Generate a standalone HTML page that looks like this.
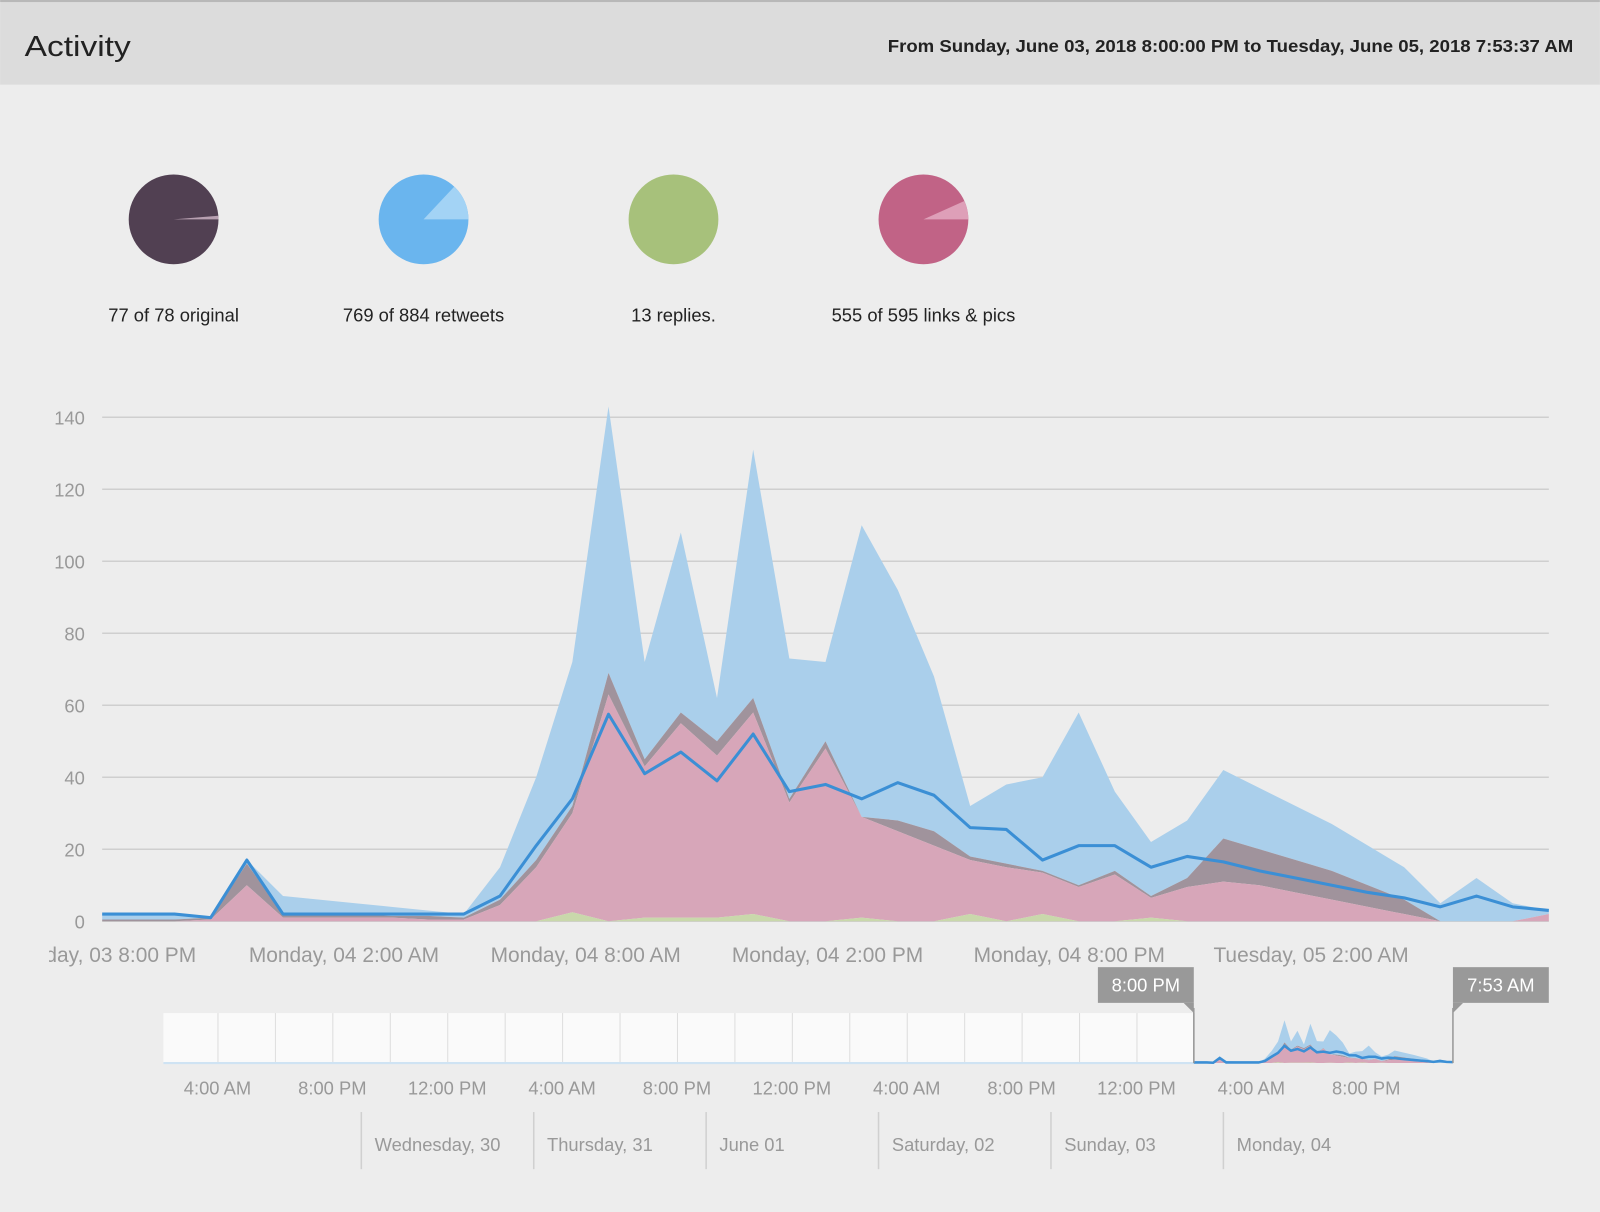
<!DOCTYPE html>
<html><head><meta charset="utf-8">
<style>
html,body{margin:0;padding:0;background:#ededed;width:1600px;height:1212px;overflow:hidden;font-family:"Liberation Sans",sans-serif;}
svg{display:block}
</style></head>
<body>
<svg id="root" width="1600" height="1212" viewBox="0 0 1568 1188">
  <rect x="0" y="0" width="1568" height="1188" fill="#ededed"/>
  <g>
    <rect x="0" y="0" width="1568" height="83" fill="#dcdcdc"/>
    <rect x="0" y="0" width="1568" height="2" fill="#b8b8b8"/>
    <text x="24" y="55" font-size="28" fill="#222" font-family="Liberation Sans, sans-serif" textLength="104" lengthAdjust="spacingAndGlyphs">Activity</text>
    <text x="1542" y="51" font-size="17" font-weight="bold" fill="#222" text-anchor="end" textLength="672" lengthAdjust="spacingAndGlyphs">From Sunday, June 03, 2018 8:00:00 PM to Tuesday, June 05, 2018 7:53:37 AM</text>
  </g>
  <g id="pies"></g>
  <g id="chart"></g>
  <g id="nav"></g>
</svg>
<script>
// ---------- data ----------
const pieLabels = ["77 of 78 original","769 of 884 retweets","13 replies.","555 of 595 links & pics"];
const pieParts = [77, 769, 13, 555];
const pieTotals = [78, 884, 13, 595];
const pieColors = ["#514052","#6ab5ee","#a7c17b","#c16386"];
const pieLight = ["#b79fb0","#a3d3f5","#c9dba9","#de9fb8"];

const yTicks = [0,20,40,60,80,100,120,140];
const xTickLabels = ["Sunday, 03 8:00 PM","Monday, 04 2:00 AM","Monday, 04 8:00 AM","Monday, 04 2:00 PM","Monday, 04 8:00 PM","Tuesday, 05 2:00 AM"];
const xTickHours = [0,6,12,18,24,30];

// stacked tops per time bin (41 bins)
const repliesTop = [0,0,0,0,0,0,0,0,0,0,0,0,0,2.5,0,1,1,1,2,0,0,1,0,0,2,0,2,0,0,1,0,0,0,0,0,0,0,0,0,0,0];
const linksTop = [0,0,0,0.5,10,1,1,1,1,0.5,0.5,4.5,15,30,63,43,55,46,58,33,48,29,25,21,17,15,13.5,9.5,13,6.5,9.5,11,10,8,6,4,2,0,0,0,2];
const originalTop = [0.5,0.5,0.5,1,16,2,2,2,1.5,1.5,1,6,17,32,69,45,58,50,62,34,50,29,28,25,18,16,14,10,14,7,12,23,20,17,14,10,6,0,0,0,2];
const retweetsTop = [2,2,2,1,17,7,6,5,4,3,2,15,40,72,143,72,108,62,131,73,72,110,92,68,32,38,40,58,36,22,28,42,37,32,27,21,15,5,12,5,3];
const tweetsLine = [2,2,2,1,17,2,2,2,2,2,2,7,21,34,57.5,41,47,39,52,36,38,34,38.5,35,26,25.5,17,21,21,15,18,16.5,14,12,10,8,6.5,4,7,4,3];

const navTimeLabels = ["4:00 AM","8:00 PM","12:00 PM","4:00 AM","8:00 PM","12:00 PM","4:00 AM","8:00 PM","12:00 PM","4:00 AM","8:00 PM"];
const navDayLabels = ["Wednesday, 30","Thursday, 31","June 01","Saturday, 02","Sunday, 03","Monday, 04"];

// ---------- helpers ----------
const NS = "http://www.w3.org/2000/svg";
function mk(tag, attrs, parent){const e=document.createElementNS(NS,tag);for(const k in attrs)e.setAttribute(k,attrs[k]);parent.appendChild(e);return e;}

// ---------- pies ----------
const pies = document.getElementById('pies');
pieLabels.forEach((lab,i)=>{
  const cx = 170 + i*245, cy = 215, r = 44;
  const g = mk('g',{},pies);
  
  
  const c = mk('circle',{cx:cx,cy:cy,r:r,fill:pieColors[i]},g);
  
  
  const frac = 1 - pieParts[i]/pieTotals[i];
  if (frac > 0) {
    const a = frac*2*Math.PI;
    const x2 = cx + r*Math.cos(-a), y2 = cy + r*Math.sin(-a);
    const p = mk('path',{d:`M${cx},${cy} L${cx+r},${cy} A${r},${r} 0 ${a>Math.PI?1:0} 0 ${x2},${y2} Z`,fill:pieLight[i]},g);
    
    
  }
  const t = mk('text',{x:cx,y:315,'font-size':18,fill:'#222','text-anchor':'middle'},g);
  t.textContent = lab;
  
  
});

// ---------- main chart ----------
const chart = document.getElementById('chart');
const X0 = 100, X1 = 1518, Y0 = 903, Y1 = 409, YMAX = 140;
const N = retweetsTop.length;
const xs = i => X0 + i*(X1-X0)/(N-1);
const xh = h => X0 + h*(X1-X0)/35.9;
const ys = v => Y0 - v*(Y0-Y1)/YMAX;

yTicks.forEach(v=>{
  const l = mk('line',{x1:X0,x2:X1,y1:ys(v),y2:ys(v),stroke:'#cfcfcf','stroke-width':1.5},chart);
  
  
  const t = mk('text',{x:83,y:ys(v)+7,'font-size':18,fill:'#999','text-anchor':'end'},chart);
  t.textContent = v;
  
  
});

const clip = mk('clipPath',{id:'plotclip'},chart);
mk('rect',{x:48,y:300,width:X1-48,height:700},clip);
function area(top, bottom, fill, name, sx, sy){
  let d = 'M'+sx(0)+','+sy(top[0]);
  for(let i=1;i<N;i++) d += ' L'+sx(i)+','+sy(top[i]);
  for(let i=N-1;i>=0;i--) d += ' L'+sx(i)+','+sy(bottom?bottom[i]:0);
  d += 'Z';
  return d;
}
function line(vals, sx, sy){
  let d='M'+sx(0)+','+sy(vals[0]);
  for(let i=1;i<N;i++) d+=' L'+sx(i)+','+sy(vals[i]);
  return d;
}
const layers = [
  [retweetsTop, originalTop, '#aacfeb','retweets-area'],
  [originalTop, linksTop, '#a0939c','original-area'],
  [linksTop, repliesTop, '#d7a6b9','links-area'],
  [repliesTop, null, '#c9d8ab','replies-area']
];
layers.forEach(L=>{
  const p = mk('path',{d:area(L[0],L[1],L[2],L[3],xs,ys),fill:L[2]},chart);
  
  
});
const lp = mk('path',{d:line(tweetsLine,xs,ys),fill:'none',stroke:'#3b8fd5','stroke-width':3,'stroke-linejoin':'round'},chart);



const xl = mk('g',{'clip-path':'url(#plotclip)'},chart);
xTickLabels.forEach((lab,i)=>{
  const t = mk('text',{x:xh(xTickHours[i]),y:943,'font-size':20.5,fill:'#999','text-anchor':'middle'},xl);
  t.textContent = lab;
  
  
});

// ---------- navigator ----------
const nav = document.getElementById('nav');
const NX0 = 160, NSEL = 1170, NX1 = 1424, NYB = 1042, NYT = 993;
const nb = mk('rect',{x:NX0,y:NYT,width:NSEL-NX0,height:NYB-NYT,fill:'#fafafa'},nav);


for(let k=0;k<18;k++){
  const x = 213.5 + k*56.3;
  if (x > NX1-5) break;
  const l = mk('line',{x1:x,x2:x,y1:NYT,y2:NYB,stroke:'#dddddd','stroke-width':1},nav);
  
  
}
mk('line',{x1:NX0,x2:NSEL,y1:NYB,y2:NYB,stroke:'#cfe3f3','stroke-width':2},nav);
const nxs = i => NSEL + i*(NX1-NSEL)/(N-1);
const nys = v => NYB - v*42/143;
layers.forEach(L=>{
  const p = mk('path',{d:area(L[0],L[1],L[2],L[3],nxs,nys),fill:L[2]},nav);
  
  
});
const nl = mk('path',{d:line(tweetsLine,nxs,nys),fill:'none',stroke:'#3b8fd5','stroke-width':2.5},nav);


[NSEL,NX1].forEach((x,i)=>{
  const l = mk('line',{x1:x,x2:x,y1:NYT-5,y2:NYB,stroke:'#999','stroke-width':1.5},nav);
  
  
});
// handle labels
const hl = mk('g',{},nav);


mk('rect',{x:1076,y:948,width:94,height:35,fill:'#999'},hl);
mk('path',{d:'M1160,983 L1170,983 L1170,993 Z',fill:'#999'},hl);
const h1 = mk('text',{x:1123,y:972,'font-size':18,fill:'#fff','text-anchor':'middle'},hl); h1.textContent='8:00 PM';
const hr = mk('g',{},nav);


mk('rect',{x:1424,y:948,width:94,height:35,fill:'#999'},hr);
mk('path',{d:'M1424,983 L1434,983 L1424,993 Z',fill:'#999'},hr);
const h2 = mk('text',{x:1471,y:972,'font-size':18,fill:'#fff','text-anchor':'middle'},hr); h2.textContent='7:53 AM';

navTimeLabels.forEach((lab,i)=>{
  const t = mk('text',{x:213+i*112.6,y:1073,'font-size':18,fill:'#999','text-anchor':'middle'},nav);
  t.textContent = lab;
  
  
});
navDayLabels.forEach((lab,i)=>{
  const x = 354 + i*169;
  const l = mk('line',{x1:x,x2:x,y1:1090,y2:1146,stroke:'#d0d0d0','stroke-width':1.5},nav);
  
  
  const t = mk('text',{x:x+13,y:1128,'font-size':18,fill:'#999'},nav);
  t.textContent = lab;
  
  
});
</script>
</body></html>
